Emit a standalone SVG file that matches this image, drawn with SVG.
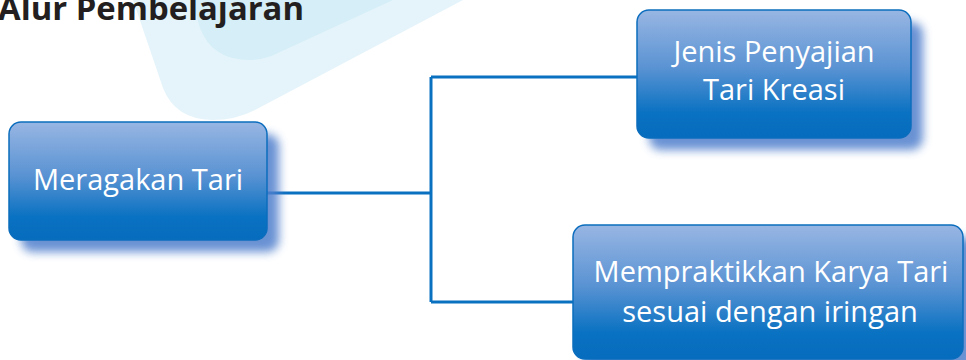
<svg xmlns="http://www.w3.org/2000/svg" width="966" height="360" viewBox="0 0 966 360">
<defs>
<linearGradient id="nodeGrad" x1="0" y1="0" x2="0" y2="1">
<stop offset="0" stop-color="#98b6e3"/>
<stop offset="0.45" stop-color="#5a93d3"/>
<stop offset="0.8" stop-color="#0a72c2"/>
<stop offset="1" stop-color="#066cbd"/>
</linearGradient>
<filter id="shadow" x="-20%" y="-25%" width="140%" height="160%">
<feGaussianBlur stdDeviation="5"/>
</filter>
</defs>
<style>
.bg1{fill:#e5f4fa}
.bg2{fill:#d5eef7}
.title{font-family:"Open Sans","Noto Sans",sans-serif;font-weight:bold;font-size:32px;fill:#231f20}
.box{fill:url(#nodeGrad);stroke:#0b6dbd;stroke-width:1.5}
.shd{fill:#4f7fcc;opacity:0.85}
.lbl{font-family:"Open Sans","Noto Sans",sans-serif;font-size:29px;fill:#ffffff;text-anchor:middle}
.conn{fill:none;stroke:#0a70c0;stroke-width:3}
</style>
<rect width="966" height="360" fill="#ffffff"/>
<g id="background">
<path class="bg1" d="M133,0 L163,88 Q175,119 212,120 Q236,120 255,110 L463,0 Z"/>
<path class="bg2" d="M192,0 L200,28 Q212,60 250,60 Q265,60 280,52 L393,0 Z"/>
</g>
<text id="title" class="title" x="-2" y="20" textLength="306" lengthAdjust="spacingAndGlyphs">Alur Pembelajaran</text>
<g id="connectors">
<path class="conn" d="M267,193 H431"/>
<path class="conn" d="M431,77 V302"/>
<path class="conn" d="M431,77 H637"/>
<path class="conn" d="M431,302 H573"/>
</g>
<g id="node-meragakan">
<rect class="shd" x="21" y="134" width="258" height="118" rx="12" filter="url(#shadow)"/>
<rect class="box" x="9" y="122" width="258" height="118" rx="12"/>
<text class="lbl" x="138" y="190">Meragakan Tari</text>
</g>
<g id="node-jenis">
<rect class="shd" x="649" y="22" width="274" height="128" rx="12" filter="url(#shadow)"/>
<rect class="box" x="637" y="10" width="274" height="128" rx="12"/>
<text class="lbl" x="774" y="62">Jenis Penyajian</text>
<text class="lbl" x="774" y="100">Tari Kreasi</text>
</g>
<g id="node-mempraktikkan">
<rect class="shd" x="585" y="237" width="390" height="134" rx="12" filter="url(#shadow)"/>
<rect class="box" x="573" y="225" width="390" height="134" rx="12"/>
<text class="lbl" x="771" y="282">Mempraktikkan Karya Tari</text>
<text class="lbl" x="770" y="322">sesuai dengan iringan</text>
</g>
</svg>
